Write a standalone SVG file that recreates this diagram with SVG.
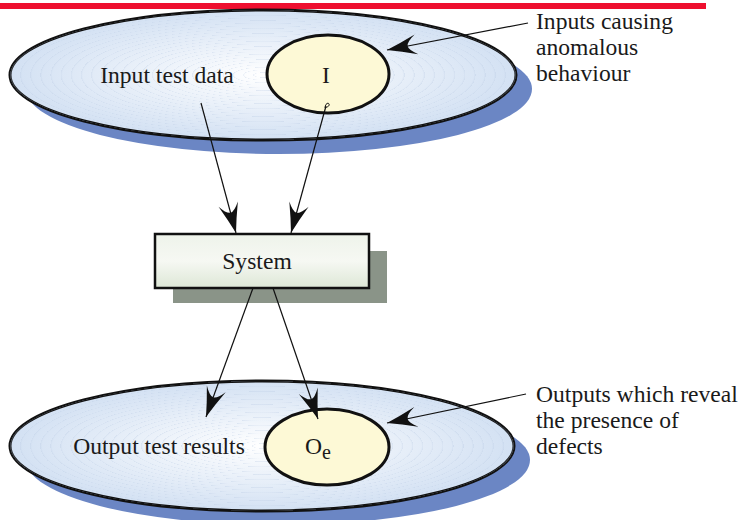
<svg xmlns="http://www.w3.org/2000/svg" width="742" height="520" viewBox="0 0 742 520">
<style>
.lbl{font-family:"Liberation Serif","Times New Roman",serif;font-size:23.6px;fill:#1a1a1a}
.big{stroke:#111;stroke-width:3;fill:url(#blueGrad)}
.ring{fill:url(#rings);stroke:none}
.shadow{fill:#6b86c4}
.inner{stroke:#111;stroke-width:3;fill:#fdf9d6}
.conn{stroke:#111;stroke-width:1.2;fill:none;marker-end:url(#dart)}
</style>
<defs>
<radialGradient id="blueGrad" cx="0.5" cy="0.5" r="0.5">
<stop offset="0" stop-color="#ffffff"/>
<stop offset="1" stop-color="#d3e1f3"/>
</radialGradient>
<radialGradient id="rings" cx="0.5" cy="0.5" r="0.02" spreadMethod="repeat">
<stop offset="0" stop-color="#c8d6ea" stop-opacity="0"/>
<stop offset="0.8" stop-color="#c8d6ea" stop-opacity="0"/>
<stop offset="1" stop-color="#b8c9e2" stop-opacity="0.35"/>
</radialGradient>
<linearGradient id="boxGrad" x1="0" y1="0" x2="0" y2="1">
<stop offset="0" stop-color="#eef3ea"/>
<stop offset="0.5" stop-color="#f6f8f3"/>
<stop offset="1" stop-color="#dde7d6"/>
</linearGradient>
<marker id="dart" viewBox="-32 -12 34 24" refX="0" refY="0" markerWidth="34" markerHeight="24" markerUnits="userSpaceOnUse" orient="auto">
<path d="M0,0 Q-14,-4 -30,-10 Q-21,-4 -21,0 Q-21,4 -30,10 Q-14,4 0,0 Z" fill="#111"/>
</marker>
</defs>
<rect x="0" y="3" width="706" height="6" fill="#ee0f2f"/>

<g id="input-set">
<ellipse class="shadow" cx="279" cy="89" rx="253" ry="65"/>
<ellipse class="big" cx="263" cy="75" rx="253" ry="65"/>
<ellipse class="ring" cx="263" cy="75" rx="253" ry="65"/>
<text class="lbl" x="167" y="83" text-anchor="middle">Input test data</text>
</g>
<g id="input-anomalous">
<ellipse class="inner" cx="328" cy="74" rx="61" ry="39"/>
<text class="lbl" x="326" y="83" text-anchor="middle">I</text>
</g>
<g id="label-inputs">
<text class="lbl" x="536" y="29">Inputs causing</text>
<text class="lbl" x="536" y="55">anomalous</text>
<text class="lbl" x="536" y="81">behaviour</text>
</g>

<g id="system">
<rect x="173" y="251" width="214" height="52" fill="#8a9488"/>
<rect x="155" y="234" width="214" height="54" fill="url(#boxGrad)" stroke="#111" stroke-width="2.5"/>
<text class="lbl" x="257" y="269" text-anchor="middle">System</text>
</g>

<g id="output-set">
<ellipse class="shadow" cx="278" cy="460" rx="252" ry="65"/>
<ellipse class="big" cx="262" cy="446" rx="252" ry="65"/>
<ellipse class="ring" cx="262" cy="446" rx="252" ry="65"/>
<text class="lbl" x="159" y="454" text-anchor="middle">Output test results</text>
</g>
<g id="output-defects">
<ellipse class="inner" cx="327" cy="447" rx="62" ry="38"/>
<text class="lbl" x="305" y="454">O<tspan dy="5" font-size="20">e</tspan></text>
</g>
<g id="label-outputs">
<text class="lbl" x="536" y="402">Outputs which reveal</text>
<text class="lbl" x="536" y="428">the presence of</text>
<text class="lbl" x="536" y="454">defects</text>
</g>

<g id="connectors">
<line class="conn" x1="201" y1="103" x2="236" y2="233"/>
<path d="M325,108 C325,104 328,102 329,104 C330,106 327,107 325,108" stroke="#111" stroke-width="1" fill="none"/>
<line class="conn" x1="326" y1="106" x2="291" y2="233"/>
<line class="conn" x1="253" y1="288" x2="206" y2="417"/>
<line class="conn" x1="273" y1="288" x2="318" y2="419"/>
<line class="conn" x1="528" y1="23" x2="387" y2="50"/>
<line class="conn" x1="526" y1="394" x2="387" y2="423"/>
</g>
</svg>
